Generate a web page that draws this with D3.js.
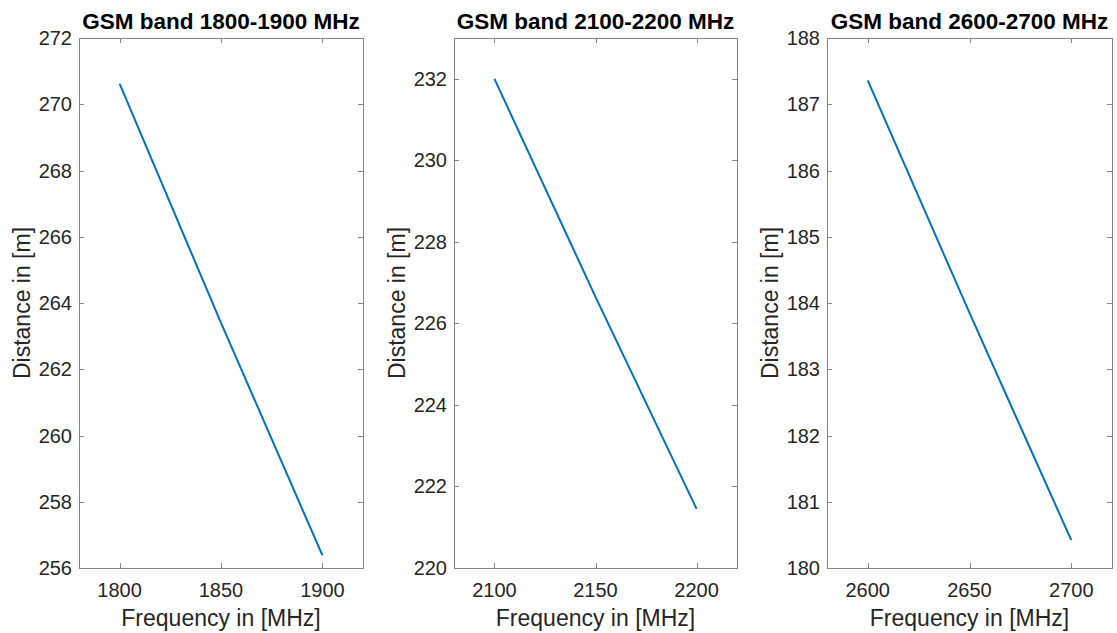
<!DOCTYPE html>
<html>
<head>
<meta charset="utf-8">
<script src="https://cdn.jsdelivr.net/npm/d3@7"></script>
<style>
  body { margin: 0; background: #fff; }
  svg { display: block; }
  text { font-family: "Liberation Sans", Arial, sans-serif; fill: #262626; }
</style>
</head>
<body>
<div id="chart"></div>
<script>
// values
const titles = ['GSM band 1800-1900 MHz', 'GSM band 2100-2200 MHz', 'GSM band 2600-2700 MHz'];

const freq1 = [1800, 1850, 1900];
const dist1 = [270.62, 263.4, 256.38];
const freq2 = [2100, 2150, 2200];
const dist2 = [232.0, 226.65, 221.45];
const freq3 = [2600, 2650, 2700];
const dist3 = [187.36, 183.85, 180.42];

const xDomains = [[1780, 1920], [2080, 2220], [2580, 2720]];
const yDomains = [[256, 272], [220, 233], [180, 188]];
const xTicks = [[1800, 1850, 1900], [2100, 2150, 2200], [2600, 2650, 2700]];
const yTicks = [
    [256, 258, 260, 262, 264, 266, 268, 270, 272],
    [220, 222, 224, 226, 228, 230, 232],
    [180, 181, 182, 183, 184, 185, 186, 187, 188]
];

const freqs = [freq1, freq2, freq3];
const dists = [dist1, dist2, dist3];

const width = 1117, height = 633;
const plotTop = 38, plotBottom = 568;
const lefts = [79, 454, 827];
const rights = [363, 737, 1112];
const tickLen = 5;

const svg = d3.select('#chart')
    .append('svg')
    .attr('width', width)
    .attr('height', height);

titles.forEach((title, i) => {
    const x = d3.scaleLinear().domain(xDomains[i]).range([lefts[i], rights[i]]);
    const y = d3.scaleLinear().domain(yDomains[i]).range([plotBottom, plotTop]);
    const g = svg.append('g');

    // box
    g.append('rect')
        .attr('x', lefts[i] + 0.5)
        .attr('y', plotTop + 0.5)
        .attr('width', rights[i] - lefts[i])
        .attr('height', plotBottom - plotTop)
        .attr('fill', 'none')
        .attr('stroke', '#858585')
        .attr('stroke-width', 1);

    // ticks inside, on all four sides
    const tickColor = '#858585';
    xTicks[i].forEach(t => {
        const px = Math.round(x(t)) + 0.5;
        g.append('line').attr('x1', px).attr('x2', px)
            .attr('y1', plotBottom).attr('y2', plotBottom - tickLen)
            .attr('stroke', tickColor);
        g.append('line').attr('x1', px).attr('x2', px)
            .attr('y1', plotTop).attr('y2', plotTop + tickLen)
            .attr('stroke', tickColor);
        g.append('text')
            .attr('x', x(t))
            .attr('y', 597)
            .attr('text-anchor', 'middle')
            .style('font-size', '20px')
            .text(t);
    });

    yTicks[i].forEach(t => {
        const py = Math.round(y(t)) + 0.5;
        g.append('line').attr('x1', lefts[i]).attr('x2', lefts[i] + tickLen)
            .attr('y1', py).attr('y2', py)
            .attr('stroke', tickColor);
        g.append('line').attr('x1', rights[i]).attr('x2', rights[i] - tickLen)
            .attr('y1', py).attr('y2', py)
            .attr('stroke', tickColor);
        g.append('text')
            .attr('x', lefts[i] - 7)
            .attr('y', y(t))
            .attr('dy', '0.35em')
            .attr('text-anchor', 'end')
            .style('font-size', '20px')
            .text(t);
    });

    const points = freqs[i].map((f, k) => [f, dists[i][k]]);
    g.append('path')
        .datum(points)
        .attr('fill', 'none')
        .attr('stroke', '#0072BD')
        .attr('stroke-width', 2)
        .attr('d', d3.line().curve(d3.curveMonotoneX).x(d => x(d[0])).y(d => y(d[1])));

    // title
    g.append('text')
        .attr('x', (lefts[i] + rights[i]) / 2)
        .attr('y', 29)
        .attr('text-anchor', 'middle')
        .style('font-size', '22.5px')
        .style('font-weight', 'bold')
        .style('fill', '#000')
        .text(title);

    // axis labels
    g.append('text')
        .attr('x', (lefts[i] + rights[i]) / 2)
        .attr('y', 626)
        .attr('text-anchor', 'middle')
        .style('font-size', '23px')
        .text('Frequency in [MHz]');

    g.append('text')
        .attr('transform', `translate(${lefts[i] - 57},${(plotTop + plotBottom) / 2}) rotate(-90)`)
        .attr('text-anchor', 'middle')
        .attr('dy', '0.35em')
        .style('font-size', '23px')
        .text('Distance in [m]');
});
</script>
</body>
</html>
